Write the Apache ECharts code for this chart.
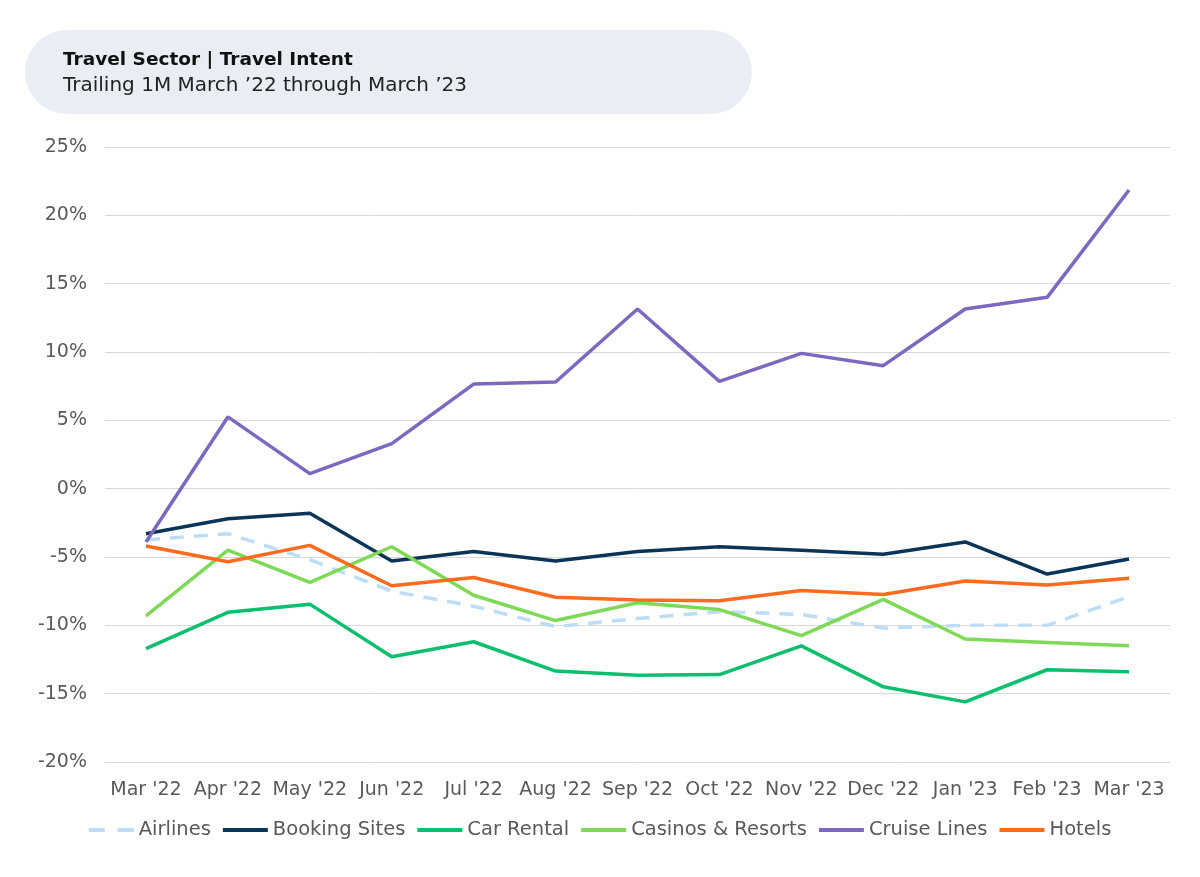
<!DOCTYPE html>
<html><head><meta charset="utf-8">
<script src="https://cdn.jsdelivr.net/npm/echarts@6/dist/echarts.min.js"></script>
<style>html,body{margin:0;padding:0;background:#fff}#c{width:1200px;height:877px}</style>
</head><body><div id="c"></div>
<script>
const categories = ["Mar '22","Apr '22","May '22","Jun '22","Jul '22","Aug '22","Sep '22","Oct '22","Nov '22","Dec '22","Jan '23","Feb '23","Mar '23"];
const airlines = [-3.75,-3.3,-5.2,-7.5,-8.6,-10.1,-9.5,-9.0,-9.2,-10.2,-10.0,-10.0,-7.9];
const bookingSites = [-3.3,-2.2,-1.8,-5.3,-4.6,-5.3,-4.6,-4.25,-4.5,-4.8,-3.9,-6.25,-5.15];
const carRental = [-11.7,-9.05,-8.45,-12.3,-11.2,-13.35,-13.65,-13.6,-11.5,-14.5,-15.6,-13.25,-13.4];
const casinosResorts = [-9.3,-4.5,-6.85,-4.25,-7.8,-9.65,-8.35,-8.85,-10.75,-8.1,-11.0,-11.25,-11.5];
const cruiseLines = [-3.9,5.25,1.1,3.3,7.65,7.8,13.15,7.85,9.9,9.0,13.15,14.0,21.85];
const hotels = [-4.2,-5.35,-4.15,-7.1,-6.5,-7.95,-8.15,-8.2,-7.45,-7.75,-6.75,-7.05,-6.55];
const yTicks = {min:-20, max:25, interval:5};

const FONT = "'DejaVu Sans', sans-serif";
const chart = echarts.init(document.getElementById('c'));
function s(name, data, color, dashed){
  return {name, type:'line', data, symbol:'none', smooth:false,
    lineStyle:{color, width:3.5, type: dashed ? [14,10] : 'solid'},
    itemStyle:{color}};
}
const solidIcon = 'path://M0,0 L45,0 L45,4 L0,4 Z';
const dashIcon = 'path://M0,0 L16,0 L16,4 L0,4 Z M29,0 L45,0 L45,4 L29,4 Z';
chart.setOption({
  animation:false,
  textStyle:{fontFamily:FONT},
  graphic:[
    {type:'rect', left:25, top:30, shape:{width:727, height:84, r:42}, style:{fill:'#E8EEF4'}},
    {type:'text', left:63, top:51, style:{text:'Travel Sector | Travel Intent', fill:'#111', font:"bold 18.5px 'DejaVu Sans', sans-serif"}},
    {type:'text', left:63, top:76, style:{text:'Trailing 1M March \u201922 through March \u201923', fill:'#222', font:"20px 'DejaVu Sans', sans-serif"}}
  ],
  grid:{left:105, right:30, top:147, bottom:115, containLabel:false},
  legend:{bottom:32, left:'center', itemWidth:45, itemHeight:4, itemGap:12,
    textStyle:{color:'#595959', fontSize:19.5, fontFamily:FONT},
    data:[
      {name:'Airlines', icon:dashIcon},
      {name:'Booking Sites', icon:solidIcon},
      {name:'Car Rental', icon:solidIcon},
      {name:'Casinos & Resorts', icon:solidIcon},
      {name:'Cruise Lines', icon:solidIcon},
      {name:'Hotels', icon:solidIcon}]},
  xAxis:{type:'category', data:categories, boundaryGap:true,
    axisLine:{show:false}, axisTick:{show:false},
    axisLabel:{color:'#595959', fontSize:19, margin:19, interval:0}},
  yAxis:{type:'value', min:yTicks.min, max:yTicks.max, interval:yTicks.interval,
    axisLine:{show:false}, axisTick:{show:false},
    axisLabel:{color:'#595959', fontSize:19, margin:18, formatter: v => v + '%'},
    splitLine:{lineStyle:{color:'#D9D9D9', width:1}}},
  series:[
    s('Airlines', airlines, '#BDDDF7', true),
    s('Booking Sites', bookingSites, '#0B3558'),
    s('Car Rental', carRental, '#0BBF6E'),
    s('Casinos & Resorts', casinosResorts, '#7ED957'),
    s('Cruise Lines', cruiseLines, '#7C68BF'),
    s('Hotels', hotels, '#FF6B1E')
  ]
});
</script></body></html>
